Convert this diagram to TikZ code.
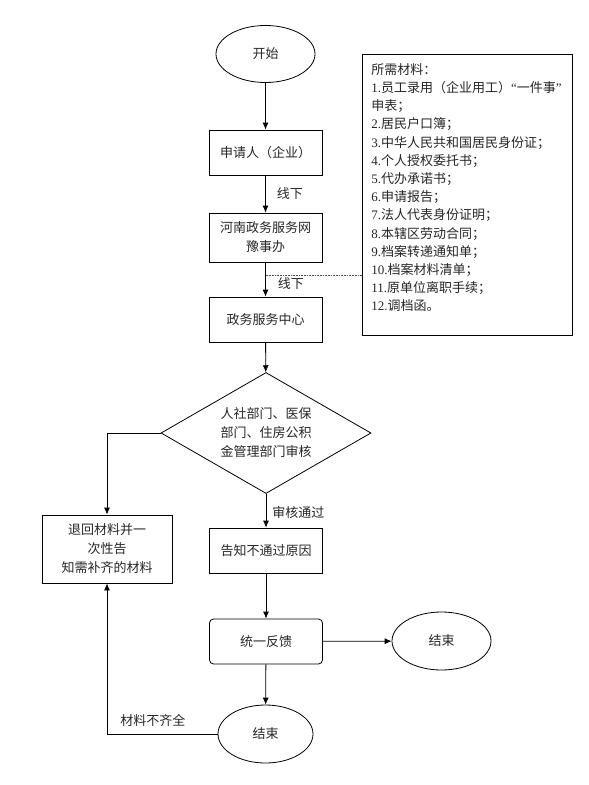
\documentclass[tikz,border=0pt]{standalone}
\usepackage{fontspec}
\setmainfont{Noto Sans CJK SC}
\newfontfamily\lat{Liberation Serif}
\usetikzlibrary{shapes.geometric,arrows.meta}
\tikzset{
  base/.style={draw=black,line width=0.8bp,font=\fontsize{13bp}{19bp}\selectfont,text=black!85,align=center},
  procbox/.style={base,rectangle,minimum width=113bp,minimum height=45bp,inner sep=2bp},
  termin/.style={base,ellipse,inner sep=0bp},
  decide/.style={base,diamond,aspect=1.736,inner sep=0bp,minimum width=210bp,minimum height=121bp},
  flow/.style={draw=black,line width=0.8bp,-{Latex[length=7bp,width=6bp]}},
  plain/.style={draw=black,line width=0.8bp},
  lbl/.style={font=\fontsize{13bp}{16bp}\selectfont,text=black!85,inner sep=0bp}
}
\begin{document}
\begin{tikzpicture}[x=1bp,y=-1bp]
\useasboundingbox (0,0) rectangle (589,785);
\fill[white] (0,0) rectangle (589,785);
% nodes
\node[termin,minimum width=99bp,minimum height=57bp] (start) at (265.5,54) {开始};
\node[procbox] (app) at (265.5,152.5) {申请人（企业）};
\node[procbox,minimum height=49bp] (web) at (265.5,237.5) {河南政务服务网\\豫事办};
\node[procbox] (center) at (265.5,319.5) {政务服务中心};
\node[decide] (dec) at (266,433) {人社部门、医保\\部门、住房公积\\金管理部门审核};
\node[procbox,minimum width=130bp,minimum height=68bp] (ret) at (107,549) {退回材料并一\\次性告\\知需补齐的材料};
\node[procbox] (tell) at (266,550.5) {告知不通过原因};
\node[procbox,rounded corners=4bp] (fb) at (266,641.5) {统一反馈};
\node[termin,minimum width=99bp,minimum height=58bp] (endr) at (441.5,641) {结束};
\node[termin,minimum width=95bp,minimum height=58bp] (endb) at (265.5,734) {结束};
\node[base,rectangle,anchor=north west,text width=192bp,align=left,inner xsep=9bp,inner ysep=9bp,font=\fontsize{13bp}{18.2bp}\selectfont] (mat) at (362,54) {%
所需材料：\\
{\lat 1.}员工录用（企业用工）{\lat “}一件事{\lat ”}\\
申表；\\
{\lat 2.}居民户口簿；\\
{\lat 3.}中华人民共和国居民身份证；\\
{\lat 4.}个人授权委托书；\\
{\lat 5.}代办承诺书；\\
{\lat 6.}申请报告；\\
{\lat 7.}法人代表身份证明；\\
{\lat 8.}本辖区劳动合同；\\
{\lat 9.}档案转递通知单；\\
{\lat 10.}档案材料清单；\\
{\lat 11.}原单位离职手续；\\
{\lat 12.}调档函。\par\vspace{14bp}};
% connectors
\draw[flow] (start) -- (app);
\draw[flow] (app) -- node[lbl,right=11bp] {线下} (web);
\draw[flow] (web) -- node[lbl,right=12bp,pos=0.62] {线下} (center);
\coordinate (dot) at (265.5,275);
\draw[line width=0.6bp,densely dotted,black!70] (dot) -- (dot -| mat.west);
\draw[flow] (center) -- (dec);
\draw[flow] (dec.west) -| (ret.north);
\draw[flow] (dec.south) -- node[lbl,right=6bp,pos=0.55] {审核通过} (tell);
\draw[flow] (tell) -- (fb);
\draw[flow] (fb) -- (endr);
\draw[flow] (fb) -- (endb);
\coordinate (corner) at (107,734);
\draw[plain] (endb.west) -- node[lbl,above=7bp,pos=0.585] {材料不齐全} (corner);
\draw[flow] (corner) -- (ret.south);
\end{tikzpicture}
\end{document}
